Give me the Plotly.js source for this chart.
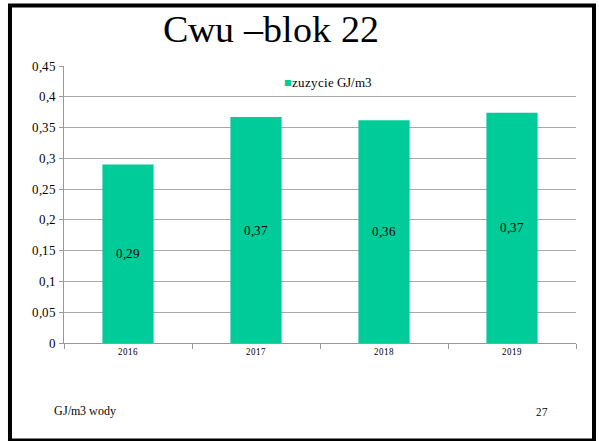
<!DOCTYPE html>
<html><head><meta charset="utf-8">
<script src="https://cdn.plot.ly/plotly-3.0.1.min.js"></script>
<style>
@font-face { font-family: 'SlideSerif'; src: local('Liberation Serif'), local('LiberationSerif'), local('Liberation Serif Regular'), local('LiberationSerif-Regular'); }
</style>
</head>
<body style="margin:0">
<div style="position:absolute;left:0;top:0;font-family:'Liberation Serif';font-size:2px;color:#fff">.</div>
<div id="chart"></div>
<script>
const categories = ['2016','2017','2018','2019'];
const values = [0.29, 0.367, 0.362, 0.374];
const labels = ['0,29','0,37','0,36','0,37'];
const seriesName = 'zuzycie GJ/m3';
const seriesColor = '#00CC99';
const yTicks = [0,0.05,0.1,0.15,0.2,0.25,0.3,0.35,0.4,0.45];
const yTickText = ['0','0,05','0,1','0,15','0,2','0,25','0,3','0,35','0,4','0,45'];

const serifFont = 'SlideSerif';
const trace = {
  type:'bar', x:categories, y:values, name:seriesName,
  marker:{color:seriesColor}, width:0.4,
  text:labels, textposition:'inside', insidetextanchor:'middle',
  textfont:{family:serifFont, size:13, color:'#000'},
  hoverinfo:'none', showlegend:false
};
const layout = {
  width:599, height:441,
  font:{family:serifFont},
  paper_bgcolor:'#fff', plot_bgcolor:'rgba(0,0,0,0)',
  margin:{l:64, r:23, t:66, b:98},
  title:{text:'Cwu –blok 22', font:{family:serifFont, size:38, color:'#000'}, x:0.453, xanchor:'center', y:0.935, yanchor:'middle'},
  xaxis:{type:'category', showline:true, linecolor:'#999', linewidth:1,
    ticks:'outside', tickson:'boundaries', ticklen:5, tickcolor:'#999',
    tickfont:{family:serifFont, size:9, color:'#000'}, showgrid:false, fixedrange:true},
  yaxis:{range:[0,0.45], tickvals:yTicks, ticktext:yTickText, showline:true, linecolor:'#999',
    ticks:'outside', ticklen:4, tickcolor:'#999', showgrid:true, gridcolor:'#aaa', gridwidth:1,
    tickfont:{family:serifFont, size:13, color:'#000'}, zeroline:false, fixedrange:true},
  showlegend:false,
  shapes:[
    {type:'rect', xref:'paper', yref:'paper', x0:-0.1055, x1:1.0352, y0:-0.352, y1:1.2184,
     line:{color:'#000', width:4}, fillcolor:'rgba(0,0,0,0)', layer:'above'}
  ],
  annotations:[
    {text:'<span style="color:'+seriesColor+'">■</span>'+seriesName, xref:'paper', yref:'paper', x:0.425, y:0.94, xanchor:'left', yanchor:'middle', showarrow:false, font:{family:serifFont, size:13, color:'#000'}},
    {text:'GJ/m3 wody', xref:'paper', yref:'paper', x:-0.023, y:-0.245, xanchor:'left', yanchor:'middle', showarrow:false, font:{family:serifFont, size:12, color:'#000'}},
    {text:'27', xref:'paper', yref:'paper', x:0.933, y:-0.25, xanchor:'center', yanchor:'middle', showarrow:false, font:{family:serifFont, size:11, color:'#000'}}
  ]
};
function draw(){ Plotly.newPlot('chart',[trace],layout,{displayModeBar:false,staticPlot:true}); }
if (document.fonts && document.fonts.load) {
  document.fonts.load('38px SlideSerif').then(draw, draw);
} else { draw(); }
</script>
</body></html>
